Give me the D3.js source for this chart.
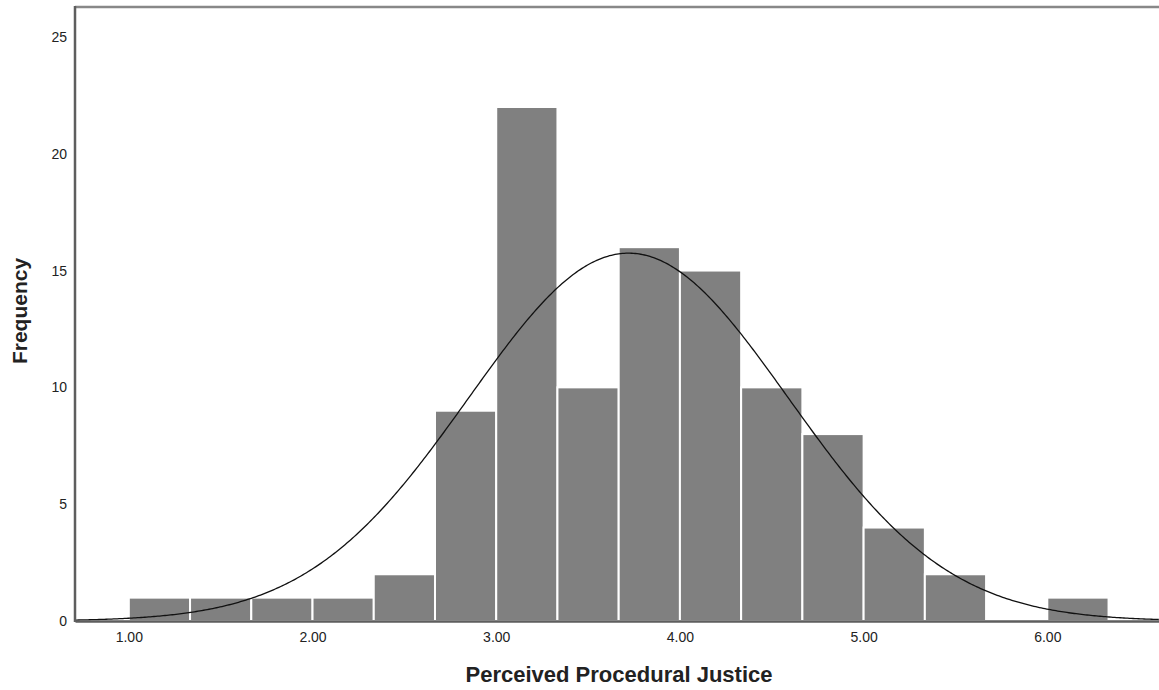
<!DOCTYPE html>
<html>
<head>
<meta charset="utf-8">
<script src="https://cdn.jsdelivr.net/npm/d3@7"></script>
<style>
  body { margin: 0; background: #fff; }
  svg text { font-family: "Liberation Sans", Arial, sans-serif; fill: #222; }
</style>
</head>
<body>
<svg id="chart" width="1159" height="690"></svg>
<script>
// histogram bins (lower edge) and counts
const binStarts = [1.0, 1.3333, 1.6667, 2.0, 2.3333, 2.6667, 3.0, 3.3333, 3.6667, 4.0, 4.3333, 4.6667, 5.0, 5.3333, 5.6667, 6.0];
const counts = [1, 1, 1, 1, 2, 9, 22, 10, 16, 15, 10, 8, 4, 2, 0, 1];
const binWidth = 1 / 3;
const xTicks = [1, 2, 3, 4, 5, 6];
const yTicks = [0, 5, 10, 15, 20, 25];
// normal curve parameters
const curveMean = 3.72;
const curveSd = 0.87;

const svg = d3.select("#chart");
const mLeft = 75, mRight = 1159, mTop = 7, mBottom = 621;

const x = d3.scaleLinear().domain([0.707, 6.608]).range([mLeft, mRight]);
const y = d3.scaleLinear().domain([0, 26.28]).range([mBottom, mTop]);

// frame top
svg.append("line")
  .attr("x1", mLeft).attr("x2", mRight)
  .attr("y1", mTop).attr("y2", mTop)
  .style("stroke", "#888").style("stroke-width", 2.5);

// bars
svg.selectAll(".bar")
  .data(binStarts.map((b, i) => ({ b, c: counts[i] })).filter(d => d.c > 0))
  .enter().append("rect")
  .attr("class", "bar")
  .attr("x", d => x(d.b))
  .attr("width", d => x(d.b + binWidth) - x(d.b))
  .attr("y", d => y(d.c))
  .attr("height", d => y(0) - y(d.c))
  .style("fill", "#808080")
  .style("stroke", "#fff")
  .style("stroke-width", 2);

// normal curve
const N = d3.sum(counts);
const pts = d3.range(0.707, 6.61, 0.01).map(v => {
  const z = (v - curveMean) / curveSd;
  return [v, N * binWidth * Math.exp(-0.5 * z * z) / (curveSd * Math.sqrt(2 * Math.PI))];
});
svg.append("path")
  .datum(pts)
  .attr("d", d3.line().x(d => x(d[0])).y(d => y(d[1])))
  .style("fill", "none")
  .style("stroke", "#111")
  .style("stroke-width", 1.3);

// axes
const gx = svg.append("g")
  .attr("transform", `translate(0,${mBottom})`)
  .call(d3.axisBottom(x).tickValues(xTicks).tickSize(0).tickPadding(11).tickFormat(d3.format(".2f")));
gx.select(".domain").style("stroke", "#5e5e5e").style("stroke-width", 2.5);
gx.selectAll("text").style("font-size", "14px");

const gy = svg.append("g")
  .attr("transform", `translate(${mLeft},0)`)
  .call(d3.axisLeft(y).tickValues(yTicks).tickSize(0).tickPadding(8));
gy.select(".domain").style("stroke", "#5e5e5e").style("stroke-width", 2.5)
  .attr("d", `M0,${mTop - 1}V${mBottom + 1}`);
gy.selectAll("text").style("font-size", "14px");

// titles
svg.append("text")
  .attr("x", 619).attr("y", 682)
  .attr("text-anchor", "middle")
  .style("font-size", "22px").style("font-weight", "bold")
  .text("Perceived Procedural Justice");

svg.append("text")
  .attr("transform", "translate(27,311) rotate(-90)")
  .attr("text-anchor", "middle")
  .style("font-size", "21px").style("font-weight", "bold")
  .text("Frequency");
</script>
</body>
</html>
